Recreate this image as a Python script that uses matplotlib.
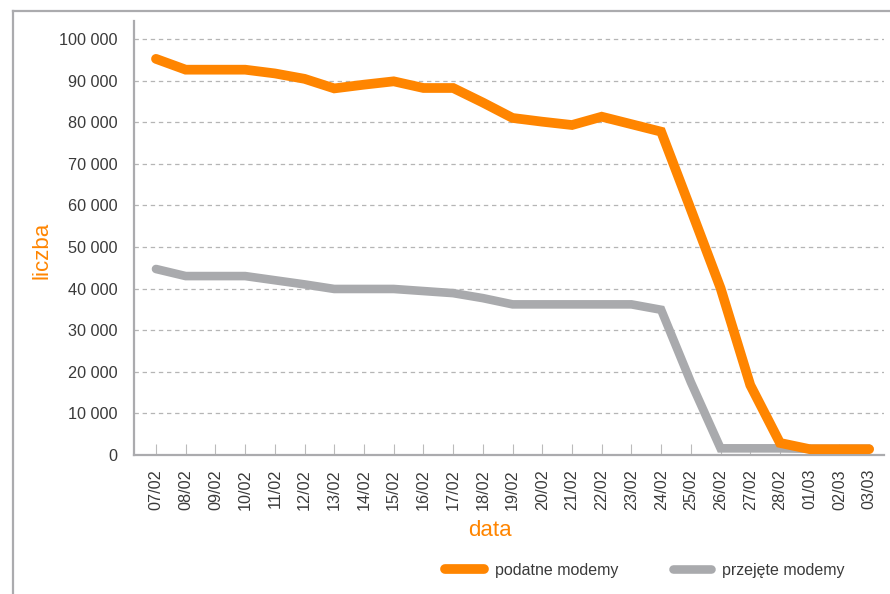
import matplotlib
matplotlib.use("Agg")
import matplotlib.pyplot as plt
from matplotlib.lines import Line2D
from matplotlib.ticker import FuncFormatter

plt.rcParams['font.family'] = ['Liberation Sans', 'DejaVu Sans']

ORANGE = '#FF8500'
GREY = '#A9AAAD'
FRAME = '#ABABAE'
TEXT = '#3A3A3A'

dates = ['07/02', '08/02', '09/02', '10/02', '11/02', '12/02', '13/02', '14/02',
         '15/02', '16/02', '17/02', '18/02', '19/02', '20/02', '21/02', '22/02',
         '23/02', '24/02', '25/02', '26/02', '27/02', '28/02', '01/03', '02/03',
         '03/03']

podatne = [95200, 92600, 92600, 92600, 91700, 90400, 88100, 89000,
           89800, 88200, 88200, 84700, 81000, 80100, 79300, 81300,
           79500, 77700, 59000, 40100, 16800, 2900, 1400, 1400,
           1400]

przejete = [44700, 43000, 43000, 43000, 42000, 41000, 39900, 39900,
            39900, 39400, 38900, 37700, 36200, 36200, 36200, 36200,
            36200, 34900, 17500, 1600, 1600, 1600, 1500, 1500,
            1500]

fig = plt.figure(figsize=(8.9, 5.94), dpi=100)
ax = fig.add_axes([134 / 890, 1 - 455 / 594, (884 - 134) / 890, (455 - 21) / 594])

x = list(range(len(dates)))
ax.plot(x, przejete, color=GREY, lw=6.2, solid_capstyle='round',
        solid_joinstyle='miter', label='przejęte modemy', zorder=3)
ax.plot(x, podatne, color=ORANGE, lw=7, solid_capstyle='round',
        solid_joinstyle='miter', label='podatne modemy', zorder=4)

ax.set_xlim(-0.74, 24.5)
ax.set_ylim(0, 104300)
ax.set_yticks(range(0, 100001, 10000))
ax.yaxis.set_major_formatter(FuncFormatter(lambda v, p: '0' if v == 0 else f'{int(v):,}'.replace(',', ' ')))
ax.set_xticks(x)
ax.set_xticklabels(dates, rotation=90)

ax.grid(axis='y', color='#B5B5B5', ls=(0, (3.5, 3)), lw=0.9, zorder=0)
ax.set_axisbelow(True)

for s in ['top', 'right']:
    ax.spines[s].set_visible(False)
for s in ['left', 'bottom']:
    ax.spines[s].set_color(FRAME)
    ax.spines[s].set_linewidth(1.6)

ax.tick_params(axis='y', length=0, pad=12, labelsize=11.7, labelcolor=TEXT)
ax.tick_params(axis='x', direction='in', length=8, width=0.8, color='#BBBBBB',
               pad=10, labelsize=11.7, labelcolor=TEXT)

fig.text(42 / 890, 1 - 250 / 594, 'liczba', color=ORANGE, fontsize=16,
         rotation=90, ha='center', va='center')
fig.text(490 / 890, 1 - 530 / 594, 'data', color=ORANGE, fontsize=16,
         ha='center', va='center')

# outer frame
fig.add_artist(Line2D([13 / 890, 1.0], [1 - 11 / 594, 1 - 11 / 594],
                      transform=fig.transFigure, color=FRAME, lw=1.6))
fig.add_artist(Line2D([13 / 890, 13 / 890], [0, 1 - 11 / 594],
                      transform=fig.transFigure, color=FRAME, lw=1.6))

handles, labels = ax.get_legend_handles_labels()
ax.legend(handles[::-1], labels[::-1], loc='center', bbox_to_anchor=(645 / 890, 1 - 570 / 594),
          bbox_transform=fig.transFigure, ncol=2, frameon=False, fontsize=11.5,
          handlelength=2.4, handletextpad=0.7, columnspacing=3.4, labelcolor=TEXT)

fig.savefig('out.png', dpi=100)
